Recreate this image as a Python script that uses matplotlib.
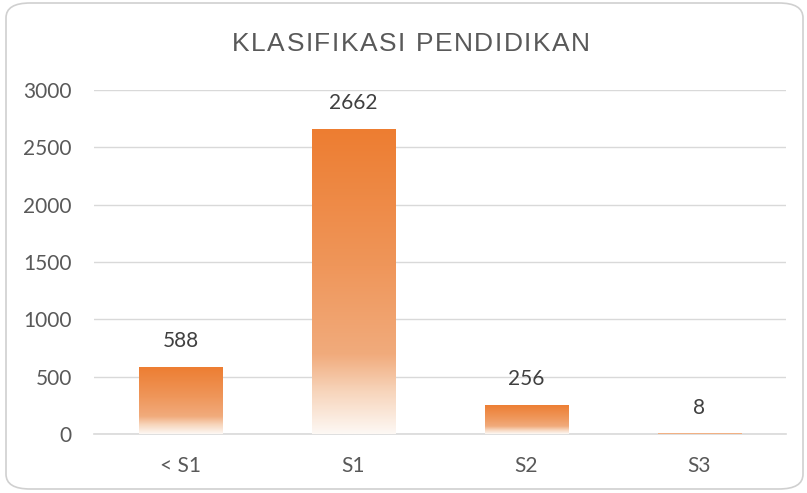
import numpy as np
import matplotlib.pyplot as plt
from matplotlib.colors import LinearSegmentedColormap
from matplotlib.patches import FancyBboxPatch
from matplotlib.font_manager import FontProperties

categories = ['< S1', 'S1', 'S2', 'S3']
values = [588, 2662, 256, 8]
yticks = [0, 500, 1000, 1500, 2000, 2500, 3000]
title = 'KLASIFIKASI PENDIDIKAN'

W, H = 807, 493
fig = plt.figure(figsize=(W / 100, H / 100), dpi=100)
fig.patch.set_facecolor('white')

# rounded chart border
border = FancyBboxPatch((6 / W, 4 / H), 797 / W, 486 / H,
                        boxstyle='round,pad=0,rounding_size=0.03',
                        transform=fig.transFigure, facecolor='none',
                        edgecolor='#D0D0D0', linewidth=1.2)
fig.patches.append(border)

ax = fig.add_axes([94 / W, 1 - 434 / H, 692 / W, 344 / H])
x = np.arange(len(categories))
bars = ax.bar(x, values, width=0.485, facecolor='none', edgecolor='none', zorder=3)

cmap = LinearSegmentedColormap.from_list('grad', [
    (0.0, '#ED7D31'), (0.45, '#EF965A'), (0.74, '#F1AB7C'),
    (0.86, '#F7D4BA'), (1.0, '#FDF8F4')])
grad = np.linspace(0, 1, 256).reshape(-1, 1)
for b in bars:
    x0, w, h = b.get_x(), b.get_width(), b.get_height()
    im = ax.imshow(grad, cmap=cmap, aspect='auto', extent=[x0, x0 + w, 0, h],
                   origin='upper', zorder=3)
    im.set_clip_path(b)
    ax.annotate(str(b.get_height()), (x0 + w / 2, h), xytext=(0, 11),
                textcoords='offset points', ha='center', va='bottom',
                fontsize=15, color='#404040', family='Lato')

ax.set_xlim(-0.5, len(categories) - 0.5)
ax.set_ylim(0, 3000)
ax.set_yticks(yticks)
ax.set_xticks(x)
ax.set_xticklabels(categories)
ax.grid(axis='y', color='#D9D9D9', linewidth=1, zorder=0)
ax.set_axisbelow(True)
for s in ['top', 'right', 'left']:
    ax.spines[s].set_visible(False)
ax.spines['bottom'].set_color('#D9D9D9')
ax.spines['bottom'].set_linewidth(1.2)
ax.tick_params(length=0, labelsize=15, colors='#595959')
ax.tick_params(axis='y', pad=16)
ax.tick_params(axis='x', pad=16)
for lab in ax.get_xticklabels() + ax.get_yticklabels():
    lab.set_family('Lato')

# title with slight letter spacing, placed char by char
fp = FontProperties(family='Liberation Sans', size=19)
renderer = fig.canvas.get_renderer()
def adv(s):
    return renderer.get_text_width_height_descent(s + '|', fp, ismath=False)[0] - \
        renderer.get_text_width_height_descent('|', fp, ismath=False)[0]
target_w = 358
base_w = adv(title)
gap = (target_w - base_w) / (len(title) - 1)
left = 411 - target_w / 2
for i, ch in enumerate(title):
    px = left + adv(title[:i]) + i * gap
    fig.text(px / W, 1 - 44 / H, ch, ha='left', va='center',
             fontproperties=fp, color='#595959')

fig.savefig('out.png', dpi=100)
